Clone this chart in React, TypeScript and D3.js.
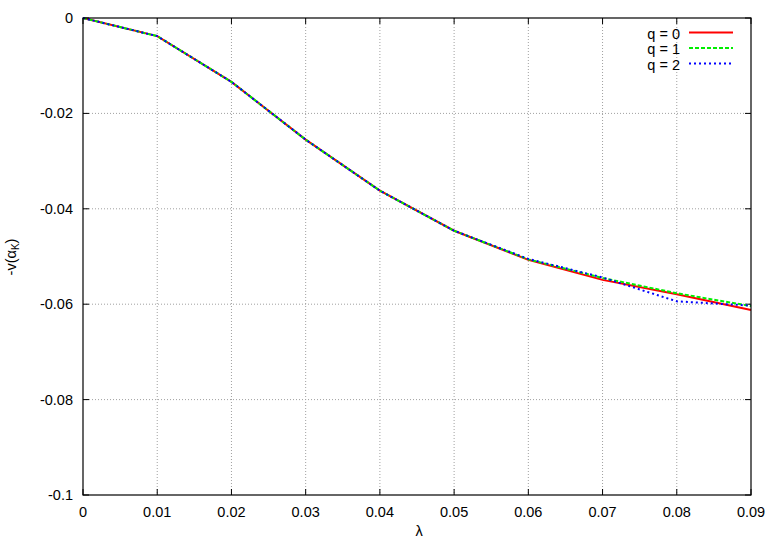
import React from "react";
import * as d3 from "d3";

const lambdas = [0, 0.01, 0.02, 0.03, 0.04, 0.05, 0.06, 0.07, 0.08, 0.09];
const q0 = [0, -0.0038, -0.0134, -0.0255, -0.0362, -0.0446, -0.0507, -0.0549, -0.0579, -0.0612];
const q1 = [0, -0.0038, -0.0134, -0.0255, -0.0362, -0.0446, -0.0506, -0.0545, -0.0577, -0.0604];
const q2 = [0, -0.0038, -0.0134, -0.0255, -0.0362, -0.0446, -0.0505, -0.0544, -0.0594, -0.0603];
const xTicks = [0, 0.01, 0.02, 0.03, 0.04, 0.05, 0.06, 0.07, 0.08, 0.09];
const xTickLabels = ["0", "0.01", "0.02", "0.03", "0.04", "0.05", "0.06", "0.07", "0.08", "0.09"];
const yTicks = [0, -0.02, -0.04, -0.06, -0.08, -0.1];
const yTickLabels = ["0", "-0.02", "-0.04", "-0.06", "-0.08", "-0.1"];
const seriesNames = ["q = 0", "q = 1", "q = 2"];

const W = 778, H = 545;
const L = 83, R = 751, T = 18, B = 495;
const FS = 14.5;

export default function App() {
  const x = d3.scaleLinear().domain([0, 0.09]).range([L, R]);
  const y = d3.scaleLinear().domain([-0.1, 0]).range([B, T]);
  const line = d3.line<number>().x((_, i) => x(lambdas[i])).y((d) => y(d));
  const series = [
    { name: seriesNames[0], data: q0, color: "#ff0000", dash: undefined },
    { name: seriesNames[1], data: q1, color: "#00ee00", dash: "4,2" },
    { name: seriesNames[2], data: q2, color: "#0000ff", dash: "2,3" },
  ];
  const font = "'Liberation Sans', Arial, Helvetica, sans-serif";
  return (
    <svg width={W} height={H} style={{ position: "absolute", left: 0, top: 0, background: "#fff" }} fontFamily={font}>
      <rect x={0} y={0} width={W} height={H} fill="#fff" />
      {xTicks.slice(1, -1).map((t, i) => (
        <line key={"gx" + i} x1={x(t)} x2={x(t)} y1={T} y2={B} stroke="#a0a0a0" strokeWidth={1} strokeDasharray="1,2" />
      ))}
      {yTicks.slice(1, -1).map((t, i) => (
        <line key={"gy" + i} x1={L} x2={R} y1={y(t)} y2={y(t)} stroke="#a0a0a0" strokeWidth={1} strokeDasharray="1,2" />
      ))}
      {xTicks.map((t, i) => (
        <g key={"tx" + i}>
          <line x1={x(t)} x2={x(t)} y1={B} y2={B - 6} stroke="#000" />
          <line x1={x(t)} x2={x(t)} y1={T} y2={T + 6} stroke="#000" />
          <text x={x(t)} y={517} textAnchor="middle" fontSize={FS} fill="#000">{xTickLabels[i]}</text>
        </g>
      ))}
      {yTicks.map((t, i) => (
        <g key={"ty" + i}>
          <line x1={L} x2={L + 6} y1={y(t)} y2={y(t)} stroke="#000" />
          <line x1={R} x2={R - 6} y1={y(t)} y2={y(t)} stroke="#000" />
          <text x={73} y={y(t) + 5} textAnchor="end" fontSize={FS} fill="#000">{yTickLabels[i]}</text>
        </g>
      ))}
      {series.map((s) => (
        <path key={s.name} d={line(s.data) || ""} fill="none" stroke={s.color} strokeWidth={2} strokeDasharray={s.dash} />
      ))}
      <rect x={L} y={T} width={R - L} height={B - T} fill="none" stroke="#000" strokeWidth={1.2} />
      {series.map((s, i) => (
        <g key={"lg" + i}>
          <text x={680} y={38.5 + i * 15.5} textAnchor="end" fontSize={FS} fill="#000">{s.name}</text>
          <line x1={689} x2={733} y1={32.5 + i * 15.5} y2={32.5 + i * 15.5} stroke={s.color} strokeWidth={2} strokeDasharray={s.dash} />
        </g>
      ))}
      <text x={419} y={536} textAnchor="middle" fontSize={FS} fill="#000">λ</text>
      <text transform={`translate(16,257) rotate(-90)`} textAnchor="middle" fontSize={FS} fill="#000">
        -v(α<tspan fontSize={10} dy={3}>K</tspan><tspan dy={-3}>)</tspan>
      </text>
    </svg>
  );
}
